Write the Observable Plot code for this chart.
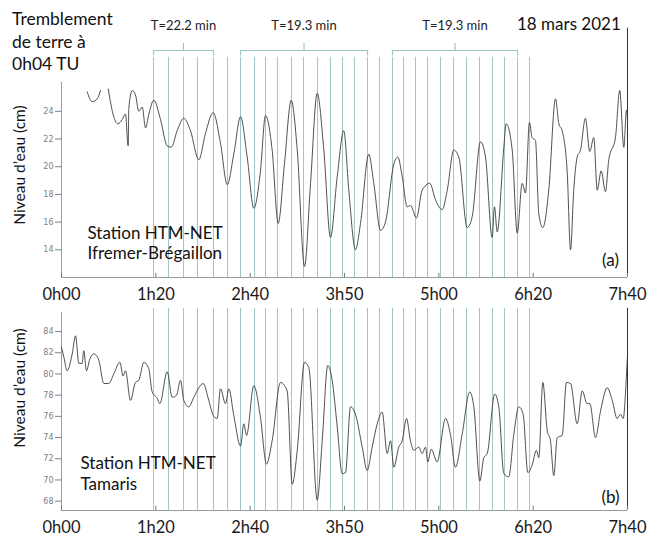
<!DOCTYPE html>
<html><head><meta charset="utf-8">
<script src="https://cdn.jsdelivr.net/npm/d3@7"></script>
<script src="https://cdn.jsdelivr.net/npm/@observablehq/plot@0.6"></script>
<style>
html,body{margin:0;padding:0;background:#fff;}
#fig{position:relative;width:647px;height:537px;font-family:Lato,"Open Sans",sans-serif;color:#111;overflow:hidden;}
.abs{position:absolute;white-space:nowrap;}
.ylab{position:absolute;white-space:nowrap;font-size:15.5px;transform:translate(-50%,-50%) rotate(-90deg);}
</style></head><body><div id="fig"></div>
<script>
// ---- data ----
const tickLabels = ["0h00","1h20","2h40","3h50","5h00","6h20","7h40"];
const durationMin = 460;
const yTicksA = [14,16,18,20,22,24];
const yTicksB = [68,70,72,74,76,78,80,82,84];
// Station (a) Ifremer-Brégaillon: [minutes, water level cm]; null = gap in record
const seriesA = [
  [20.9,25.4],[24.9,24.7],[29.0,24.9],[31.7,25.5],[34.9,null],
  [38.0,25.6],[42.5,23.6],[45.8,23.1],[49.3,23.4],[52.0,23.8],[54.2,21.5],[54.7,24.2],[57.5,25.5],[60.1,25.2],[62.8,24.0],
  [65.6,24.3],[68.3,22.8],[71.0,23.8],[75.0,24.8],[80.5,23.4],[85.9,21.5],[89.2,21.4],[94.0,22.6],[99.4,23.5],[104.8,22.6],
  [111.6,20.5],[117.0,22.4],[123.3,23.9],[129.2,21.7],[134.7,18.7],[140.0,20.9],[145.5,23.6],[150.9,20.7],[156.3,17.0],[161.7,19.7],
  [165.8,23.7],[171.2,21.2],[176.1,15.9],[181.2,20.2],[186.7,24.8],[191.6,21.2],[197.5,12.8],[202.4,18.8],[207.8,25.3],[213.2,21.2],
  [218.6,14.9],[224.1,19.3],[229.4,22.6],[233.5,18.3],[238.9,14.0],[243.0,15.9],[249.7,20.9],[253.8,18.8],[259.3,15.4],[263.3,16.0],
  [270.1,20.2],[273.3,20.7],[276.9,19.3],[280.9,17.1],[283.6,17.2],[288.5,16.3],[293.1,18.3],[299.3,18.8],[304.0,17.6],[309.4,16.9],
  [313.5,18.3],[318.8,21.2],[322.9,20.7],[329.7,15.6],[333.8,16.4],[340.5,21.8],[344.6,20.7],[350.0,14.9],[351.9,17.1],[354.1,15.3],
  [359.5,21.4],[361.4,23.1],[366.3,21.2],[370.4,15.2],[374.4,18.8],[377.1,18.1],[380.3,23.2],[382.5,22.1],[385.2,21.9],[387.9,16.6],
  [391.2,15.6],[396.0,18.3],[401.5,24.9],[404.2,23.1],[406.9,22.6],[411.0,19.6],[413.7,14.0],[416.3,18.3],[419.1,20.7],[421.8,21.2],
  [425.8,23.5],[429.3,21.1],[432.6,22.1],[435.4,18.3],[438.6,19.7],[442.1,18.2],[444.8,20.5],[450.2,22.1],[453.7,25.5],[457.0,21.4],
  [459.2,24.1],[460.0,23.4]
];
// Station (b) Tamaris
const seriesB = [
  [0.0,82.5],[1.9,81.6],[4.6,80.3],[8.7,81.9],[11.4,83.6],[14.1,81.0],[16.8,81.0],[18.1,82.2],[20.3,80.3],[23.0,81.4],
  [26.3,81.9],[30.3,81.3],[34.4,79.1],[38.4,79.1],[42.5,80.0],[47.4,81.1],[50.1,79.8],[52.0,80.3],[56.1,77.5],[60.1,79.2],
  [62.8,79.4],[66.9,81.1],[70.9,80.5],[73.7,78.3],[77.8,77.7],[79.9,77.2],[85.9,80.2],[90.0,77.8],[93.5,78.0],[96.7,79.4],
  [99.4,77.5],[103.5,76.9],[107.5,77.8],[115.2,79.1],[119.7,77.5],[123.3,76.1],[126.5,75.8],[129.2,78.6],[133.3,77.2],[136.0,78.6],
  [140.0,76.1],[145.5,73.2],[148.2,75.3],[150.4,74.2],[156.3,78.9],[161.7,75.9],[166.6,71.5],[171.2,73.7],[178.0,79.2],[183.4,78.4],
  [187.5,69.6],[191.6,72.8],[197.5,81.1],[201.0,80.6],[207.8,68.1],[211.9,73.7],[216.4,80.8],[220.0,79.4],[224.1,75.0],[228.1,70.6],
  [230.8,70.7],[234.9,76.9],[238.9,76.2],[244.4,73.1],[248.4,70.9],[252.5,73.1],[256.6,75.3],[260.6,76.4],[264.7,72.5],[267.4,73.7],
  [270.1,71.2],[274.1,73.1],[276.9,73.7],[280.4,75.8],[283.6,73.7],[286.3,72.8],[290.4,73.1],[293.1,72.5],[295.8,73.1],[297.7,71.7],
  [300.5,72.9],[305.3,71.7],[312.1,75.8],[316.1,74.3],[320.2,71.2],[325.6,74.3],[331.8,78.3],[335.1,76.9],[340.0,69.9],[343.2,72.1],
  [346.0,72.5],[352.1,78.1],[355.4,76.9],[359.5,70.6],[363.5,70.3],[367.6,74.3],[371.7,76.9],[375.2,76.2],[379.0,70.7],[382.5,71.4],
  [386.0,72.8],[387.9,72.1],[391.2,79.2],[394.7,74.7],[397.4,73.7],[400.1,70.4],[402.9,74.0],[406.9,74.2],[410.4,79.2],[413.7,79.1],
  [419.1,75.3],[423.2,78.4],[427.2,77.2],[429.4,77.2],[434.0,74.0],[438.1,76.5],[443.5,78.7],[447.6,77.5],[451.6,75.8],[454.3,76.2],
  [456.5,75.8],[459.2,80.0],[460.0,81.7]
];
// wave-crest / trough markers (minutes)
const cycleLines = [74.8,87.0,99.2,110.5,123.5,134.9,145.5,156.9,165.8,175.5,186.9,196.7,208.1,218.6,228.4,238.1,248.7,258.4,
  269.0,278.0,287.7,297.5,308.0,318.6,329.2,339.7,350.3,360.0,370.6,380.4];
const bracketLabels = ["T=22.2 min","T=19.3 min","T=19.3 min"];
const bracketFrom = [0,6,18];   // index into cycleLines
const bracketTo = [4,16,28];

// ---- build ----
const step = durationMin / (tickLabels.length - 1);
const xTicks = tickLabels.map((_, i) => i * step);
const rowsA = seriesA.map(([t, v]) => ({t, v}));
const rowsB = seriesB.map(([t, v]) => ({t, v}));
const brackets = bracketLabels.map((label, i) => {
  const a = cycleLines[bracketFrom[i]], b = cycleLines[bracketTo[i]];
  return {label, a, b, mid: (a + b) / 2};
});
const bracketEnds = brackets.flatMap(d => [d.a, d.b]);

const LINE = "#9fc6c6", FONT = "Lato";
const fig = document.getElementById("fig");

function panel(o) {
  const [y0] = o.yDomain;
  const marks = [
    Plot.ruleX(cycleLines, {y1: y0, y2: o.lineTop, stroke: LINE, strokeWidth: 1}),
    Plot.ruleY([y0], {stroke: "#9a9a9a"}),
    Plot.ruleX([0], {y1: y0, y2: o.axisTop, stroke: "#9a9a9a"}),
    Plot.ruleX([durationMin], {y1: y0, y2: o.borderTop, stroke: "#333"}),
    Plot.ruleX(xTicks, {y1: y0, y2: y0 + o.tickLen, stroke: "#777"}),
    Plot.axisY(o.yTicks, {tickSize: 6, tickPadding: 2, fontSize: 8, fontFamily: "DejaVu Sans", color: "#808080", label: null}),
    Plot.axisX(xTicks, {tickSize: 0, tickPadding: 11, fontSize: 16.5, fontFamily: FONT, color: "#1a1a1a", label: null,
      tickFormat: d => tickLabels[Math.round(d / step)]}),
    Plot.line(o.rows, {x: "t", y: "v", stroke: "#3c3c3c", strokeWidth: 0.9, curve: "monotone-x"}),
    Plot.text([o.station], {frameAnchor: "bottom-left", textAnchor: "start", lineAnchor: "middle",
      dx: o.stDx, dy: o.stDy, lineHeight: o.stLH, fontSize: 17, fontFamily: FONT, fill: "#111"}),
    Plot.text([o.tag], {frameAnchor: "bottom-right", textAnchor: "middle", lineAnchor: "middle",
      dx: -17, dy: o.tagDy, fontSize: 17, fontFamily: FONT, fill: "#111"})
  ];
  if (o.brackets) {
    marks.push(
      Plot.ruleY(brackets, {x1: "a", x2: "b", y: 28.39, stroke: LINE, strokeWidth: 1.2}),
      Plot.ruleX(bracketEnds, {y1: 28.0, y2: 28.39, stroke: LINE, strokeWidth: 1.2}),
      Plot.ruleX(brackets, {x: "mid", y1: 28.39, y2: 28.9, stroke: LINE, strokeWidth: 1.2}),
      Plot.text(brackets, {x: "mid", y: 30.15, text: "label", fontSize: 13, fontFamily: FONT, fill: "#222"})
    );
  }
  const svg = Plot.plot({
    width: 647, height: o.height,
    marginLeft: 61, marginRight: 20, marginTop: 0, marginBottom: o.marginBottom,
    x: {domain: [0, durationMin]},
    y: {domain: o.yDomain},
    style: {fontFamily: FONT, background: "transparent", overflow: "visible"},
    marks
  });
  svg.style.position = "absolute";
  svg.style.left = "0px";
  svg.style.top = o.top + "px";
  fig.appendChild(svg);
}

panel({rows: rowsA, yDomain: [12, 32], yTicks: yTicksA, axisTop: 26.1, borderTop: 30.0, lineTop: 27.9, tickLen: 0.3,
  height: 300, marginBottom: 23, top: 0, brackets: true,
  station: "Station HTM-NET\nIfremer-Brégaillon", stDx: 26, stDy: -35, stLH: 1.18, tag: "(a)", tagDy: -17});
panel({rows: rowsB, yDomain: [67.12, 86.93], yTicks: yTicksB, axisTop: 85.8, borderTop: 86.2, lineTop: 86.2, tickLen: 0.4,
  height: 237, marginBottom: 27, top: 300, brackets: false,
  station: "Station HTM-NET\nTamaris", stDx: 19, stDy: -37.5, stLH: 1.24, tag: "(b)", tagDy: -13});

function html(cls, text, style) {
  const d = document.createElement("div");
  d.className = cls; d.textContent = text; Object.assign(d.style, style); fig.appendChild(d); return d;
}
const title = html("abs", "", {left: "12px", top: "8px", fontSize: "17.5px", lineHeight: "22.5px"});
title.innerHTML = "Tremblement<br>de terre à<br>0h04 TU";
html("abs", "18 mars 2021", {left: "517px", top: "13px", fontSize: "17px", lineHeight: "22px"});
html("ylab", "Niveau d’eau (cm)", {left: "19px", top: "165px"});
html("ylab", "Niveau d’eau (cm)", {left: "19px", top: "388px"});
</script></body></html>
